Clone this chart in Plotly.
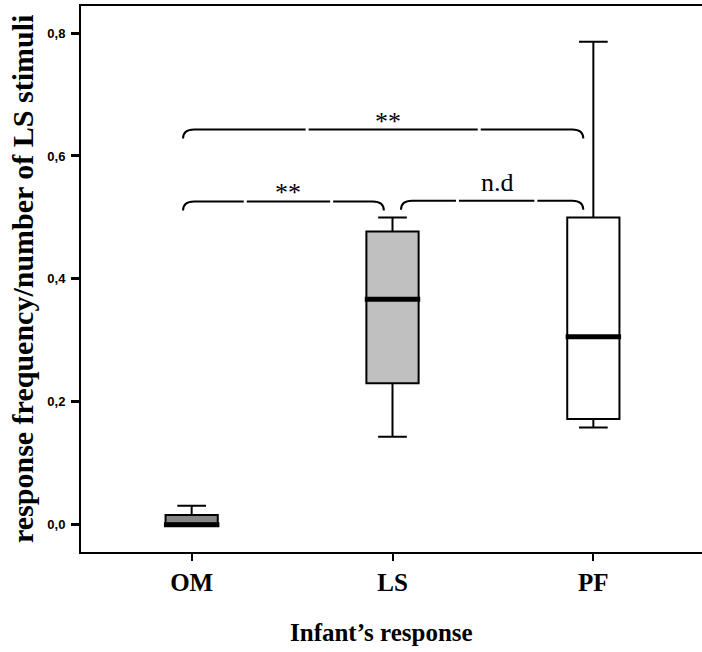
import plotly.graph_objects as go

# ---- data ----
categories = ["OM", "LS", "PF"]
lower_whisker = [0.0, 0.143, 0.158]
q1 = [0.0, 0.230, 0.172]
median = [0.0, 0.367, 0.306]
q3 = [0.016, 0.477, 0.500]
upper_whisker = [0.031, 0.500, 0.786]
fills = ["#868686", "#c0c0c0", "#ffffff"]

# significance braces: (from category index, to category index, level, label)
comparisons = [
    (0, 2, 0.643, "**"),
    (0, 1, 0.526, "**"),
    (1, 2, 0.527, "n.d"),
]

ytick_vals = [0.0, 0.2, 0.4, 0.6, 0.8]

BOX_W = 0.26
SERIF = "Liberation Serif, Times New Roman, serif"
SANS = "Liberation Sans, Arial, sans-serif"

fig = go.Figure()
for i, cat in enumerate(categories):
    fig.add_trace(go.Box(
        x=[i], q1=[q1[i]], median=[median[i]], q3=[q3[i]],
        lowerfence=[lower_whisker[i]], upperfence=[upper_whisker[i]],
        width=BOX_W, whiskerwidth=0.55,
        fillcolor=fills[i], line=dict(color="black", width=2),
        boxpoints=False, showlegend=False, hoverinfo="skip", name=cat,
    ))
    # thick median bar
    fig.add_trace(go.Scatter(
        x=[i - BOX_W / 2 - 0.008, i + BOX_W / 2 + 0.008], y=[median[i], median[i]],
        mode="lines", line=dict(color="black", width=5),
        showlegend=False, hoverinfo="skip",
    ))

# braces
xpx = 1 / 200.8   # data units per pixel (x)
ypx = 1 / 614.6   # data units per pixel (y)
for a, b, lvl, label in comparisons:
    x0 = a - 0.043 if a == 0 else a + 0.042
    x1 = b - 0.043 if b == 1 else b - 0.05
    rx = 11 * xpx
    ry = 9 * ypx
    span = x1 - x0
    g1 = x0 + 0.31 * span
    g2 = x0 + 0.74 * span
    gap = 1.5 * xpx
    path = (f"M {x0},{lvl - ry} Q {x0},{lvl} {x0 + rx},{lvl} L {g1 - gap},{lvl} "
            f"M {g1 + gap},{lvl} L {g2 - gap},{lvl} "
            f"M {g2 + gap},{lvl} L {x1 - rx},{lvl} Q {x1},{lvl} {x1},{lvl - ry}")
    fig.add_shape(type="path", path=path, xref="x", yref="y",
                  line=dict(color="black", width=2))
    fig.add_annotation(x=(x0 + x1) / 2 + 5 * xpx, y=lvl + 2 * ypx, text=label,
                       showarrow=False, xanchor="center", yanchor="bottom",
                       yshift=-10 if label == "**" else 0,
                       font=dict(family=SERIF, size=26, color="black"))

# axis titles
fig.add_annotation(xref="paper", yref="paper", x=-0.095, y=0.5,
                   text="response frequency/number of LS stimuli", textangle=-90,
                   showarrow=False, xanchor="center", yanchor="middle",
                   font=dict(family=SERIF, size=30, color="black", weight="bold"))
fig.add_annotation(xref="paper", yref="paper", x=0.484, y=-0.148,
                   text="Infant’s response",
                   showarrow=False, xanchor="center", yanchor="middle",
                   font=dict(family=SERIF, size=25, color="black", weight="bold"))

fig.update_layout(
    width=702, height=652,
    margin=dict(l=81, r=0, t=6, b=100),
    paper_bgcolor="white", plot_bgcolor="white",
    separators=",.",
    showlegend=False,
    xaxis=dict(
        range=[-0.551, 2.541], tickvals=list(range(len(categories))), ticktext=categories,
        showline=True, linecolor="black", linewidth=2, mirror=True,
        ticks="outside", ticklen=7, tickwidth=2, tickcolor="black",
        showgrid=False, zeroline=False,
        tickfont=dict(family=SERIF, size=25, color="black", weight="bold"),
    ),
    yaxis=dict(
        range=[-0.0444, 0.844], tickvals=ytick_vals, tickformat=".1f",
        showline=True, linecolor="black", linewidth=2, mirror=False,
        ticks="outside", ticklen=8, tickwidth=2.5, tickcolor="black",
        showgrid=False, zeroline=False, ticklabelstandoff=3,
        tickfont=dict(family=SANS, size=13, color="black", weight="bold"),
    ),
)

fig.write_html("out.html")
